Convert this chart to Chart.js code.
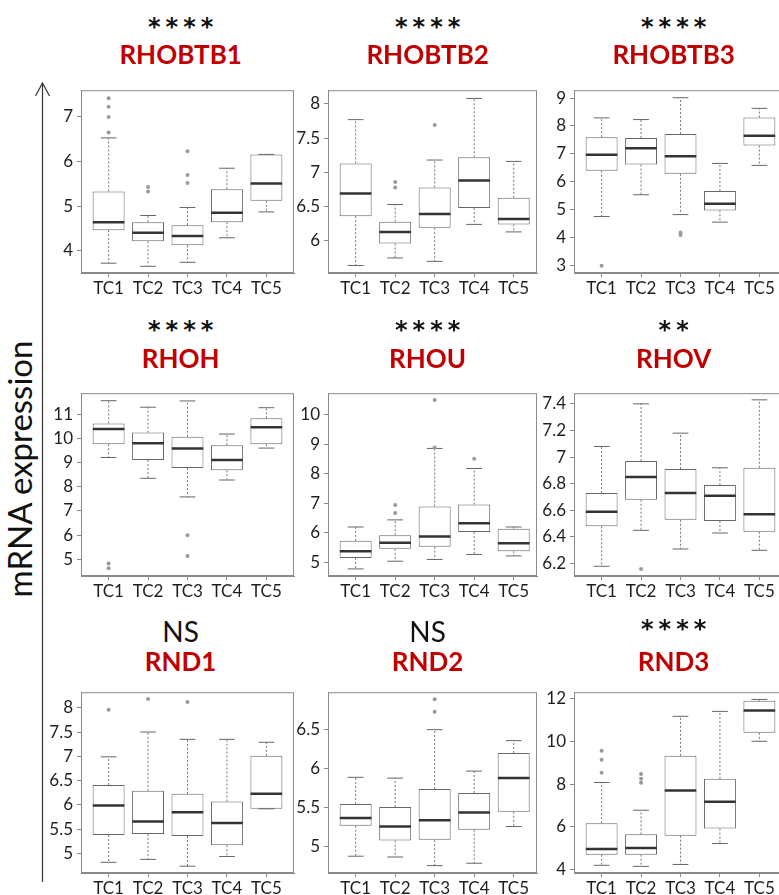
<!DOCTYPE html>
<html>
<head>
<meta charset="utf-8">
<script src="https://cdn.jsdelivr.net/npm/chart.js@4.4.0/dist/chart.umd.min.js"></script>
<style>
  html, body { margin: 0; padding: 0; background: #fff; overflow: hidden; }
  body { width: 779px; height: 895px; position: relative; font-family: Lato, sans-serif; }
  canvas { position: absolute; }
  .sig, .gene { position: absolute; width: 200px; text-align: center; white-space: nowrap; }
  .sig { font-family: 'DejaVu Sans', sans-serif; font-weight: 700; font-size: 24px; line-height: 24px;
         color: #111; letter-spacing: 5px; padding-left: 5px; box-sizing: border-box; }
  .sig.ns { font-family: Lato, sans-serif; font-weight: 400; font-size: 28px; line-height: 28px; letter-spacing: 0; padding-left: 0; }
  .gene { font-size: 26px; line-height: 26px; font-weight: 700; color: #c00000; }
  #ylab { position: absolute; left: 19px; top: 469px; transform: translate(-50%, -50%) rotate(-90deg);
          font-size: 33px; color: #111; white-space: nowrap; }
  #arrow { position: absolute; left: 0; top: 0; }
</style>
</head>
<body>
<svg id="arrow" width="60" height="895">
  <line x1="42.5" y1="83" x2="42.5" y2="882" stroke="#333" stroke-width="1.2"/>
  <polyline points="35.5,96 42.5,83 49.5,96" fill="none" stroke="#333" stroke-width="1.2"/>
</svg>
<div id="ylab">mRNA expression</div>
<div id="panels"></div>
<script>
const categories = ['TC1', 'TC2', 'TC3', 'TC4', 'TC5'];
const genes = ['RHOBTB1', 'RHOBTB2', 'RHOBTB3', 'RHOH', 'RHOU', 'RHOV', 'RND1', 'RND2', 'RND3'];
const significance = ['****', '****', '****', '****', '****', '**', 'NS', 'NS', '****'];

// per category: [lower whisker, Q1, median, Q3, upper whisker]
const rhobtb1 = [[3.72, 4.46, 4.64, 5.33, 6.53], [3.65, 4.21, 4.40, 4.64, 4.79], [3.74, 4.12, 4.33, 4.57, 4.97], [4.29, 4.64, 4.85, 5.38, 5.85], [4.87, 5.12, 5.51, 6.16, 6.16]];
const rhobtb1Out = [[7.42, 7.23, 7.0, 6.65], [5.43, 5.33], [6.23, 5.70, 5.52], [], []];
const rhobtb2 = [[5.64, 6.36, 6.69, 7.13, 7.77], [5.75, 5.96, 6.13, 6.28, 6.53], [5.70, 6.19, 6.39, 6.78, 7.18], [6.24, 6.48, 6.88, 7.22, 8.08], [6.13, 6.24, 6.32, 6.63, 7.16]];
const rhobtb2Out = [[], [6.86, 6.78], [7.69], [], []];
const rhobtb3 = [[4.76, 6.40, 6.97, 7.60, 8.29], [5.54, 6.62, 7.20, 7.57, 8.23], [4.83, 6.29, 6.92, 7.71, 9.01], [4.56, 4.98, 5.22, 5.67, 6.66], [6.59, 7.30, 7.65, 8.30, 8.63]];
const rhobtb3Out = [[3.0], [], [4.19, 4.10], [], []];
const rhoh = [[9.21, 9.76, 10.39, 10.62, 11.56], [8.35, 9.11, 9.80, 10.24, 11.29], [7.58, 8.78, 9.58, 10.07, 11.55], [8.28, 8.68, 9.11, 9.72, 10.18], [9.60, 9.76, 10.46, 10.83, 11.27]];
const rhohOut = [[4.83, 4.63], [], [6.0, 5.14], [], []];
const rhou = [[4.78, 5.15, 5.38, 5.73, 6.20], [5.04, 5.46, 5.67, 5.92, 6.44], [5.10, 5.53, 5.88, 6.89, 8.86], [5.27, 6.03, 6.33, 6.96, 8.18], [5.22, 5.38, 5.65, 6.14, 6.20]];
const rhouOut = [[], [6.94, 6.67], [10.50, 8.89], [8.51], []];
const rhov = [[6.18, 6.48, 6.59, 6.73, 7.08], [6.45, 6.68, 6.85, 6.97, 7.40], [6.31, 6.53, 6.73, 6.91, 7.18], [6.43, 6.52, 6.71, 6.79, 6.92], [6.30, 6.44, 6.57, 6.92, 7.43]];
const rhovOut = [[], [6.16], [], [], []];
const rnd1 = [[4.82, 5.38, 5.99, 6.41, 6.99], [4.88, 5.40, 5.66, 6.29, 7.50], [4.74, 5.36, 5.85, 6.23, 7.35], [4.94, 5.17, 5.63, 6.07, 7.35], [5.92, 5.92, 6.23, 7.01, 7.29]];
const rnd1Out = [[7.96], [8.18], [8.12], [], []];
const rnd2 = [[4.88, 5.27, 5.37, 5.55, 5.89], [4.87, 5.08, 5.26, 5.51, 5.88], [4.76, 5.09, 5.34, 5.74, 6.50], [4.79, 5.22, 5.44, 5.69, 5.97], [5.26, 5.45, 5.88, 6.20, 6.36]];
const rnd2Out = [[], [], [6.89, 6.73], [], []];
const rnd3 = [[4.20, 4.70, 4.97, 6.17, 8.08], [4.15, 4.70, 5.01, 5.65, 6.78], [4.24, 5.59, 7.71, 9.33, 11.18], [5.22, 5.92, 7.18, 8.25, 11.41], [10.01, 10.41, 11.45, 11.91, 11.97]];
const rnd3Out = [[9.57, 9.15, 8.54], [8.48, 8.26, 8.07], [], [], []];

// y tick labels
const rhobtb1Ticks = [4, 5, 6, 7];
const rhobtb2Ticks = [6, 6.5, 7, 7.5, 8];
const rhobtb3Ticks = [3, 4, 5, 6, 7, 8, 9];
const rhohTicks = [5, 6, 7, 8, 9, 10, 11];
const rhouTicks = [5, 6, 7, 8, 9, 10];
const rhovTicks = [6.2, 6.4, 6.6, 6.8, 7, 7.2, 7.4];
const rnd1Ticks = [5, 5.5, 6, 6.5, 7, 7.5, 8];
const rnd2Ticks = [5, 5.5, 6, 6.5];
const rnd3Ticks = [4, 6, 8, 10, 12];

const panelStats = [rhobtb1, rhobtb2, rhobtb3, rhoh, rhou, rhov, rnd1, rnd2, rnd3];
const panelOut = [rhobtb1Out, rhobtb2Out, rhobtb3Out, rhohOut, rhouOut, rhovOut, rnd1Out, rnd2Out, rnd3Out];
const panelTicks = [rhobtb1Ticks, rhobtb2Ticks, rhobtb3Ticks, rhohTicks, rhouTicks, rhovTicks, rnd1Ticks, rnd2Ticks, rnd3Ticks];

// layout (axis ranges + frame placement)
const yRange = [[3.5, 7.6], [5.53, 8.2], [2.74, 9.28], [4.31, 11.87], [4.54, 10.73], [6.107, 7.48], [4.60, 8.32], [4.665, 6.98], [3.84, 12.31]];
const colLeft = [81, 328, 574];
const colXMax = [5.7, 5.59, 5.7];
const rowTop = [80, 383, 682];
const rowH = [193, 193, 191];
const unit = 39.5;
const sigTop = [15.2, 318.2, 617.2];
const geneTop = [40.9, 344.9, 647.9];

Chart.defaults.font.family = 'Lato';

const frame = {
  id: 'frame',
  afterDraw(chart) {
    const a = chart.chartArea, ctx = chart.ctx;
    ctx.save();
    ctx.strokeStyle = '#8a8a8a';
    ctx.lineWidth = 1;
    ctx.strokeRect(a.left + 0.5, a.top + 0.5, a.right - a.left - 1, a.bottom - a.top - 1);
    ctx.restore();
  }
};

function makePanel(k) {
  const col = k % 3, row = Math.floor(k / 3);
  const stats = panelStats[k], outs = panelOut[k], ticks = panelTicks[k];
  const plotW = Math.round((colXMax[col] - 0.3) * unit);
  const cv = document.createElement('canvas');
  cv.width = 50 + plotW + 4;
  cv.height = 4 + rowH[row] + 30;
  cv.style.left = (colLeft[col] - 50) + 'px';
  cv.style.top = (rowTop[row] - 4) + 'px';
  document.getElementById('panels').appendChild(cv);

  const centre = colLeft[col] + 2.7 * unit - 7;
  const sig = document.createElement('div');
  sig.className = 'sig' + (significance[k] === 'NS' ? ' ns' : '');
  sig.textContent = significance[k];
  sig.style.left = (centre - 100) + 'px';
  sig.style.top = (significance[k] === 'NS' ? 617.2 : sigTop[row]) + 'px';
  document.body.appendChild(sig);
  const gene = document.createElement('div');
  gene.className = 'gene';
  gene.textContent = genes[k];
  gene.style.left = (centre - 100) + 'px';
  gene.style.top = geneTop[row] + 'px';
  document.body.appendChild(gene);

  const boxes = [], whiskers = [], caps = [], medians = [], points = [];
  stats.forEach((s, i) => {
    const x = i + 1;
    boxes.push({ x, y: [s[1], s[3]] });
    whiskers.push({ x, y: s[3] }, { x, y: s[4] }, { x, y: null }, { x, y: s[1] }, { x, y: s[0] }, { x, y: null });
    caps.push({ x: x - 0.2, y: s[4] }, { x: x + 0.2, y: s[4] }, { x, y: null },
              { x: x - 0.2, y: s[0] }, { x: x + 0.2, y: s[0] }, { x, y: null });
    medians.push({ x: x - 0.4, y: s[2] }, { x: x + 0.4, y: s[2] }, { x, y: null });
    outs[i].forEach(v => points.push({ x, y: v }));
  });

  new Chart(cv, {
    type: 'bar',
    data: {
      datasets: [
        { type: 'bar', data: boxes, backgroundColor: '#fff', borderColor: '#666', borderWidth: 1,
          borderSkipped: false, barPercentage: 0.81, categoryPercentage: 1, order: 4 },
        { type: 'line', data: whiskers, borderColor: '#777', borderWidth: 1, borderDash: [2, 2],
          pointRadius: 0, spanGaps: false, order: 3 },
        { type: 'line', data: caps, borderColor: '#666', borderWidth: 1, pointRadius: 0, spanGaps: false, order: 2 },
        { type: 'line', data: medians, borderColor: '#333', borderWidth: 2.5, pointRadius: 0, spanGaps: false, order: 1 },
        { type: 'scatter', data: points, backgroundColor: '#9a9a9a', borderWidth: 0, pointRadius: 2, order: 0 }
      ]
    },
    options: {
      responsive: false,
      animation: false,
      events: [],
      layout: { padding: { top: 4, right: 4, left: 0, bottom: 0 } },
      plugins: { legend: { display: false }, tooltip: { enabled: false } },
      scales: {
        x: {
          type: 'linear', min: 0.3, max: colXMax[col], bounds: 'data', offset: false,
          afterBuildTicks: s => { s.ticks = categories.map((c, i) => ({ value: i + 1 })); },
          afterFit: s => { s.height = 30; },
          grid: { drawOnChartArea: false, offset: false, tickLength: 4, color: '#888' },
          border: { color: '#8a8a8a' },
          ticks: { callback: v => categories[v - 1], font: { size: 17 }, color: '#1e1e1e', padding: 1, maxRotation: 0, autoSkip: false }
        },
        y: {
          min: yRange[k][0], max: yRange[k][1], bounds: 'data',
          afterBuildTicks: s => { s.ticks = ticks.map(v => ({ value: v })); },
          afterFit: s => { s.width = 50; },
          grid: { drawOnChartArea: false, tickLength: 4, color: '#888' },
          border: { color: '#8a8a8a' },
          ticks: { callback: v => String(v), font: { size: 17 }, color: '#1e1e1e', padding: 4, autoSkip: false }
        }
      }
    },
    plugins: [frame]
  });
}

for (let k = 0; k < 9; k++) makePanel(k);
</script>
</body>
</html>
